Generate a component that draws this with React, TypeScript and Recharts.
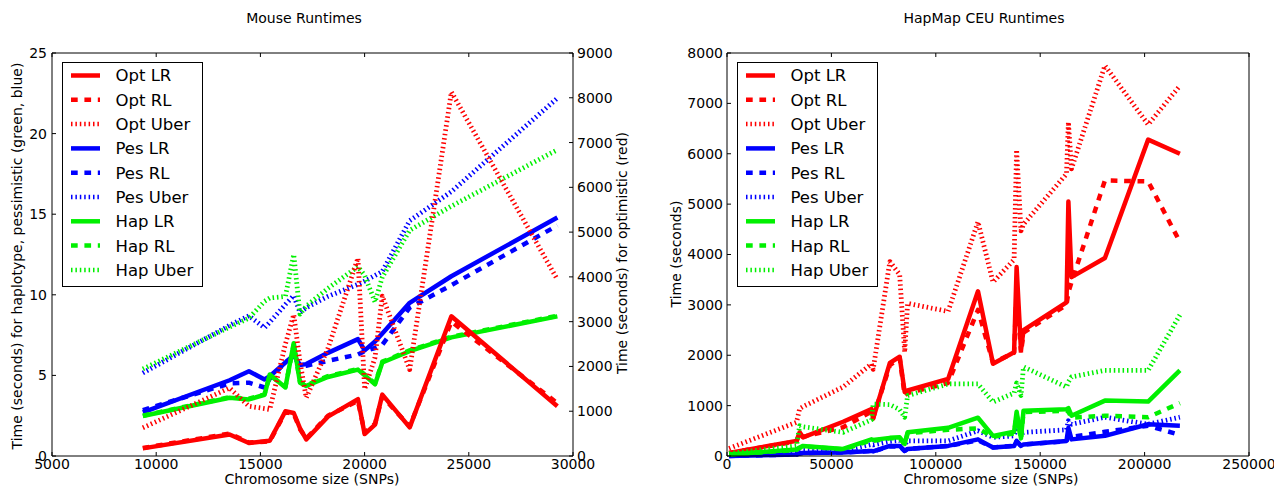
import React from 'react';
import { LineChart, Line, XAxis, YAxis, Legend, Label } from 'recharts';

// Mouse chromosome sizes (SNPs) and runtimes
const mouseSize = [9359, 13521, 14450, 15200, 15450, 16200, 16600, 16900, 17200, 18240, 19681, 20002, 20500, 20850, 22163, 24164, 29250];
const mouseOptLR = [170, 480, 290, 330, 340, 1000, 960, 620, 370, 880, 1270, 490, 700, 1370, 640, 3120, 1110];
const mouseOptRL = [180, 500, 300, 320, 330, 980, 940, 600, 390, 900, 1230, 520, 720, 1330, 660, 3000, 1180];
const mouseOptUber = [630, 1520, 1110, 1060, 1040, 2500, 3160, 2100, 1300, 2400, 4420, 1490, 2200, 3570, 1930, 8130, 3940];
const mousePesLR = [2.7, 4.7, 5.26, 4.75, 4.95, 5.8, 6.25, 5.65, 5.7, 6.4, 7.25, 6.55, 7.1, 7.6, 9.5, 11.15, 14.8];
const mousePesRL = [2.85, 4.5, 4.55, 4.25, 4.8, 5.8, 6.2, 5.55, 5.6, 5.9, 6.3, 6.5, 6.7, 6.9, 9.2, 10.6, 14.3];
const mousePesUber = [5.15, 8.1, 8.7, 7.95, 8.3, 9.4, 9.95, 8.9, 9.2, 9.9, 10.65, 10.85, 11.2, 11.45, 14.6, 16.4, 22.2];
const mouseHapLR = [2.48, 3.61, 3.51, 3.8, 5.06, 4.25, 7.0, 4.55, 4.35, 4.9, 5.36, 5.0, 4.45, 5.8, 6.5, 7.36, 8.66];
const mouseHapRL = [2.5, 3.65, 3.55, 3.85, 5.0, 4.3, 6.9, 4.6, 4.4, 4.95, 5.4, 5.05, 4.5, 5.85, 6.55, 7.4, 8.7];
const mouseHapUber = [5.4, 8.0, 8.55, 9.6, 9.8, 9.9, 12.5, 8.8, 9.3, 10.4, 11.75, 11.2, 9.55, 11.1, 14.0, 15.5, 19.0];

// HapMap CEU chromosome sizes (SNPs) and runtimes
const hapSize = [1000, 33300, 34800, 36400, 55600, 69200, 70000, 78000, 82700, 85100, 86500, 105900, 120200, 127400, 137500, 138700, 140800, 142000, 162600, 163500, 165000, 181000, 201700, 216900];
const hapOptLR = [60, 300, 470, 370, 680, 930, 740, 1850, 1970, 1270, 1300, 1530, 3270, 1830, 2060, 3750, 2100, 2500, 3050, 5050, 3550, 3930, 6280, 6000];
const hapOptRL = [60, 290, 450, 380, 570, 880, 760, 1800, 1950, 1200, 1250, 1450, 2900, 1850, 2050, 3300, 2050, 2450, 3000, 3250, 3450, 5470, 5450, 4250];
const hapOptUber = [150, 670, 940, 980, 1370, 1830, 1720, 3860, 3600, 2060, 3030, 2870, 4650, 3450, 3900, 6080, 4470, 4600, 5600, 6630, 5700, 7750, 6580, 7350];
const hapPesLR = [0, 30, 50, 60, 70, 100, 90, 200, 200, 100, 140, 200, 330, 170, 200, 300, 200, 230, 300, 560, 330, 400, 630, 600];
const hapPesRL = [0, 30, 50, 60, 70, 100, 90, 190, 190, 100, 140, 200, 310, 170, 200, 290, 200, 230, 290, 400, 380, 480, 600, 420];
const hapPesUber = [10, 70, 100, 110, 100, 230, 220, 290, 310, 230, 300, 300, 500, 370, 400, 570, 430, 470, 520, 700, 630, 770, 630, 770];
const hapHapLR = [30, 130, 170, 200, 140, 330, 320, 360, 370, 240, 470, 560, 760, 400, 480, 880, 350, 900, 930, 950, 800, 1100, 1080, 1700];
const hapHapRL = [30, 120, 160, 190, 130, 310, 300, 350, 350, 230, 450, 520, 550, 380, 450, 820, 330, 870, 900, 880, 760, 800, 770, 1050];
const hapHapUber = [50, 200, 600, 580, 470, 720, 1030, 1020, 920, 770, 1200, 1430, 1430, 1070, 1250, 1450, 1200, 1770, 1370, 1470, 1570, 1700, 1700, 2800];

const mouseXTicks = [5000, 10000, 15000, 20000, 25000, 30000];
const mouseLeftTicks = [0, 5, 10, 15, 20, 25];
const mouseRightTicks = [0, 1000, 2000, 3000, 4000, 5000, 6000, 7000, 8000, 9000];
const hapXTicks = [0, 50000, 100000, 150000, 200000, 250000];
const hapYTicks = [0, 1000, 2000, 3000, 4000, 5000, 6000, 7000, 8000];

const RED = '#ff0000';
const BLUE = '#0000ff';
const GREEN = '#00f000';
const FONT = 'DejaVu Sans, Verdana, sans-serif';

const DASH: Record<string, string | undefined> = {
  LR: undefined,
  RL: '6.7 6.7',
  Uber: '1.5 2.9',
};

const series = [
  { key: 'optLR', name: 'Opt LR', color: RED, kind: 'LR' },
  { key: 'optRL', name: 'Opt RL', color: RED, kind: 'RL' },
  { key: 'optUber', name: 'Opt Uber', color: RED, kind: 'Uber' },
  { key: 'pesLR', name: 'Pes LR', color: BLUE, kind: 'LR' },
  { key: 'pesRL', name: 'Pes RL', color: BLUE, kind: 'RL' },
  { key: 'pesUber', name: 'Pes Uber', color: BLUE, kind: 'Uber' },
  { key: 'hapLR', name: 'Hap LR', color: GREEN, kind: 'LR' },
  { key: 'hapRL', name: 'Hap RL', color: GREEN, kind: 'RL' },
  { key: 'hapUber', name: 'Hap Uber', color: GREEN, kind: 'Uber' },
];

const mouseData = mouseSize.map((x, i) => ({
  x,
  optLR: mouseOptLR[i], optRL: mouseOptRL[i], optUber: mouseOptUber[i],
  pesLR: mousePesLR[i], pesRL: mousePesRL[i], pesUber: mousePesUber[i],
  hapLR: mouseHapLR[i], hapRL: mouseHapRL[i], hapUber: mouseHapUber[i],
}));

const hapData = hapSize.map((x, i) => ({
  x,
  optLR: hapOptLR[i], optRL: hapOptRL[i], optUber: hapOptUber[i],
  pesLR: hapPesLR[i], pesRL: hapPesRL[i], pesUber: hapPesUber[i],
  hapLR: hapHapLR[i], hapRL: hapHapRL[i], hapUber: hapHapUber[i],
}));

const tickStyle = { fill: '#000', fontSize: 14, fontFamily: FONT };
const blank = () => '';

const LegendBox = () => (
  <svg width={141} height={225} style={{ display: 'block' }}>
    <rect x={0.5} y={0.5} width={140} height={224} fill="#fff" stroke="#000" strokeWidth={1} />
    {series.map((s, i) => {
      const cy = 13.5 + i * 24.3;
      return (
        <g key={s.key}>
          <line x1={9} x2={38} y1={cy} y2={cy} stroke={s.color} strokeWidth={4.5} strokeDasharray={DASH[s.kind]} />
          <text x={53.5} y={cy} dy="0.36em" fontSize={16.5} fontFamily={FONT} fill="#000">{s.name}</text>
        </g>
      );
    })}
  </svg>
);

const renderLine = (s: typeof series[number], yAxisId: string) => (
  <Line
    key={s.key}
    type="linear"
    dataKey={s.key}
    yAxisId={yAxisId}
    stroke={s.color}
    strokeWidth={s.kind === 'Uber' ? 4.8 : 4.5}
    strokeDasharray={DASH[s.kind]}
    strokeLinejoin="round"
    dot={false}
    activeDot={false}
    isAnimationActive={false}
  />
);

const textAt = (x: number, y: number, text: string, rotate = false) => () => (
  <text
    x={x}
    y={y}
    transform={rotate ? `rotate(-90 ${x} ${y})` : undefined}
    textAnchor="middle"
    fontSize={14}
    fontFamily={FONT}
    fill="#000"
  >
    {text}
  </text>
);

const MouseChart = () => (
  <LineChart width={640} height={486} data={mouseData} margin={{ top: 52, right: 7, bottom: 0, left: 0 }}>
    <XAxis
      dataKey="x" type="number" domain={[5000, 30000]} ticks={mouseXTicks} interval={0}
      height={30} tickSize={-4} tickMargin={7} tick={tickStyle}
      axisLine={{ stroke: '#000' }} tickLine={{ stroke: '#000' }}
    >
      <Label content={textAt(312, 484, 'Chromosome size (SNPs)')} />
    </XAxis>
    <XAxis
      xAxisId="top" orientation="top" dataKey="x" type="number" domain={[5000, 30000]} ticks={mouseXTicks}
      interval={0} height={1} tickSize={-4} tickFormatter={blank}
      axisLine={{ stroke: '#000' }} tickLine={{ stroke: '#000' }}
    >
      <Label content={textAt(304, 23, 'Mouse Runtimes')} />
    </XAxis>
    <YAxis
      yAxisId="left" type="number" domain={[0, 25]} ticks={mouseLeftTicks} interval={0}
      width={52} tickSize={-4} tickMargin={9} tick={tickStyle}
      axisLine={{ stroke: '#000' }} tickLine={{ stroke: '#000' }}
    >
      <Label content={textAt(22, 256, 'Time (seconds) for haplotype, pessimistic (green, blue)', true)} />
    </YAxis>
    <YAxis
      yAxisId="right" orientation="right" type="number" domain={[0, 9000]} ticks={mouseRightTicks} interval={0}
      width={60} tickSize={-4} tickMargin={8} tick={tickStyle}
      axisLine={{ stroke: '#000' }} tickLine={{ stroke: '#000' }}
    >
      <Label content={textAt(627, 253, 'Time (seconds) for optimistic (red)', true)} />
    </YAxis>
    {series.filter((s) => !s.key.startsWith('opt')).map((s) => renderLine(s, 'left'))}
    {series.filter((s) => s.key.startsWith('opt')).map((s) => renderLine(s, 'right'))}
    <Legend
      layout="vertical" align="center" verticalAlign="middle"
      content={() => <LegendBox />}
      wrapperStyle={{ position: 'absolute', left: 62, top: 62, width: 141, height: 225 }}
    />
  </LineChart>
);

const HapMapChart = () => (
  <LineChart width={634} height={486} data={hapData} margin={{ top: 52, right: 24, bottom: 0, left: 0 }}>
    <XAxis
      dataKey="x" type="number" domain={[0, 250000]} ticks={hapXTicks} interval={0}
      height={30} tickSize={-4} tickMargin={7} tick={tickStyle}
      axisLine={{ stroke: '#000' }} tickLine={{ stroke: '#000' }}
    >
      <Label content={textAt(351, 484, 'Chromosome size (SNPs)')} />
    </XAxis>
    <XAxis
      xAxisId="top" orientation="top" dataKey="x" type="number" domain={[0, 250000]} ticks={hapXTicks}
      interval={0} height={1} tickSize={-4} tickFormatter={blank}
      axisLine={{ stroke: '#000' }} tickLine={{ stroke: '#000' }}
    >
      <Label content={textAt(344, 23, 'HapMap CEU Runtimes')} />
    </XAxis>
    <YAxis
      yAxisId="left" type="number" domain={[0, 8000]} ticks={hapYTicks} interval={0}
      width={87} tickSize={-4} tickMargin={8} tick={tickStyle}
      axisLine={{ stroke: '#000' }} tickLine={{ stroke: '#000' }}
    >
      <Label content={textAt(41, 254, 'Time (seconds)', true)} />
    </YAxis>
    <YAxis
      yAxisId="frame" orientation="right" type="number" domain={[0, 8000]} ticks={hapYTicks} interval={0}
      width={1} tickSize={-4} tickFormatter={blank}
      axisLine={{ stroke: '#000' }} tickLine={{ stroke: '#000' }}
    />
    {series.map((s) => renderLine(s, 'left'))}
    <Legend
      layout="vertical" align="center" verticalAlign="middle"
      content={() => <LegendBox />}
      wrapperStyle={{ position: 'absolute', left: 97, top: 62, width: 141, height: 225 }}
    />
  </LineChart>
);

export default function App() {
  return (
    <div style={{ position: 'absolute', left: 0, top: 0, width: 1274, height: 486, background: '#fff', overflow: 'hidden' }}>
      <div style={{ position: 'absolute', left: 0, top: 0 }}>
        <MouseChart />
      </div>
      <div style={{ position: 'absolute', left: 640, top: 0 }}>
        <HapMapChart />
      </div>
    </div>
  );
}
